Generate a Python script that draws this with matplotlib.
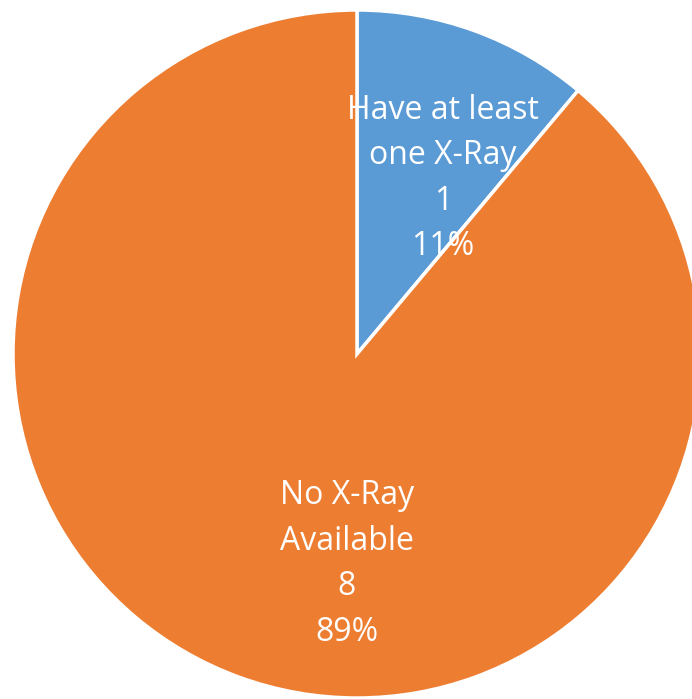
import matplotlib
matplotlib.use("Agg")
import matplotlib.pyplot as plt

# slice data
labels = ["Have at least\none X-Ray", "No X-Ray\nAvailable"]
counts = [1, 8]
colors = ["#5B9BD5", "#ED7D31"]

fig = plt.figure(figsize=(6.92, 6.99), dpi=100)
ax = fig.add_axes([0, 0, 1, 1])

total = sum(counts)
ax.pie(counts, colors=colors, startangle=90, counterclock=False,
       wedgeprops=dict(edgecolor="white", linewidth=2.5))

# pixel-based framing: center (357, 354), radius 344
cx, cy, r = 357, 354, 344
ax.set_aspect("auto")
ax.set_xlim(-cx / r, (692 - cx) / r)
ax.set_ylim(-(699 - cy) / r, cy / r)
ax.axis("off")

label_pos = [(0.25, 0.51), (-0.03, -0.61)]
for lab, c, (x, y) in zip(labels, counts, label_pos):
    txt = f"{lab}\n{c}\n{round(100 * c / total)}%"
    ax.text(x, y, txt, ha="center", va="center", color="white",
            fontsize=23, family="Open Sans", linespacing=1.5)

fig.savefig("out.png", dpi=100)
